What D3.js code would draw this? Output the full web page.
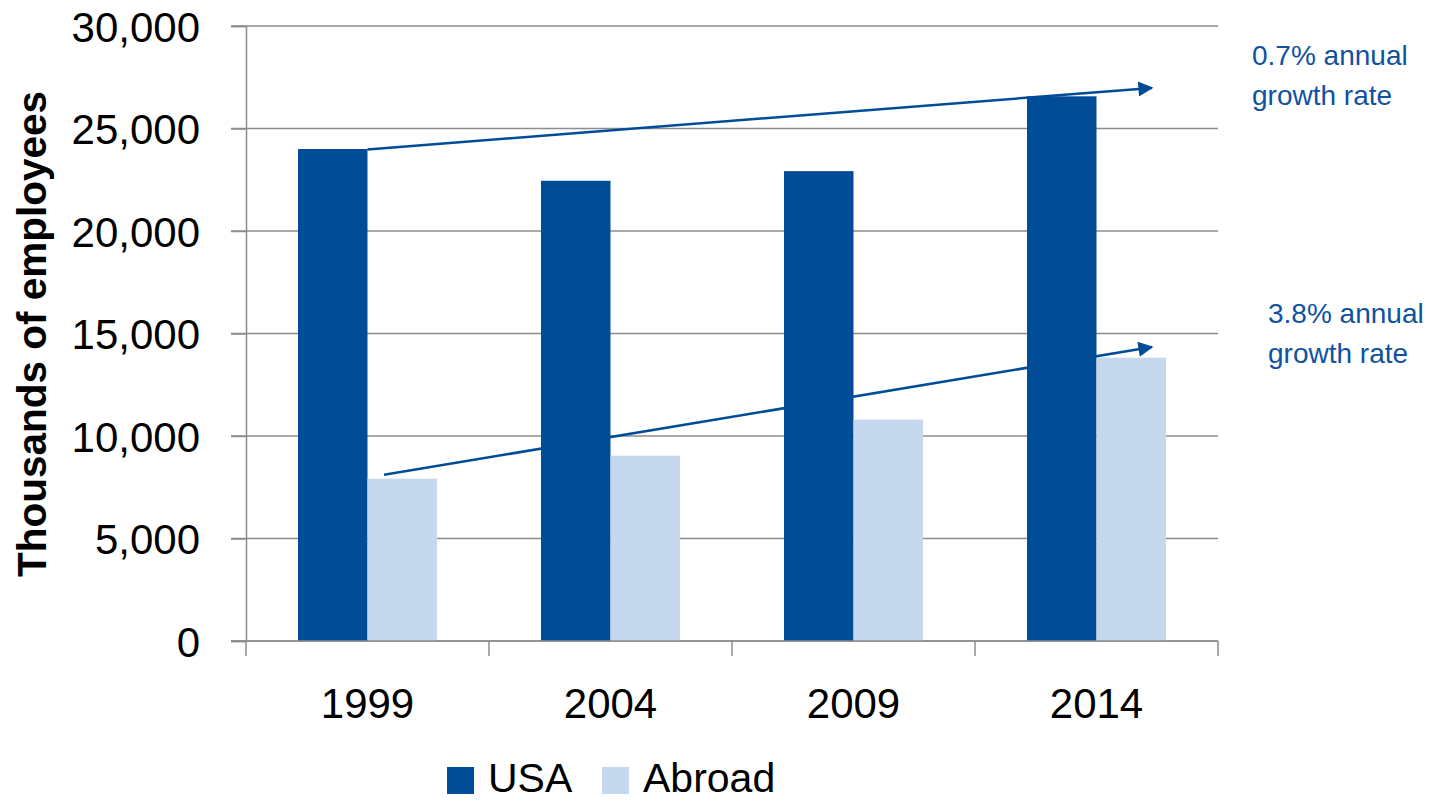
<!DOCTYPE html>
<html><head><meta charset="utf-8">
<script src="https://cdn.jsdelivr.net/npm/d3@7"></script>
<style>html,body{margin:0;padding:0;background:#fff;}svg{display:block;}</style>
</head><body>
<svg id="chart" width="1441" height="801"></svg>
<script>
const years = ["1999", "2004", "2009", "2014"];
const seriesNames = ["USA", "Abroad"];
const usaValues = [24000, 22450, 22920, 26570];
const abroadValues = [7920, 9040, 10800, 13820];
const yTicks = [0, 5000, 10000, 15000, 20000, 25000, 30000];
const colors = ["#004C97", "#C5D8EE"];
// trend arrows: [startYear, startValue, endYear, endValue]
const arrowUSA = [1999, 23980, 2015.14, 26980];
const arrowAbroad = [1999.34, 8110, 2015.14, 14340];
const noteUSA = ["0.7% annual", "growth rate"];
const noteAbroad = ["3.8% annual", "growth rate"];

(function () {
const svg = d3.select("#chart");
const mLeft = 246, mRight = 1218, mTop = 26, mBottom = 641;
const axisColor = "#8C8C8C";
const blue = "#004C97";
const font = "'Liberation Sans', Arial, sans-serif";

const y = d3.scaleLinear().domain([0, 30000]).range([mBottom, mTop]);
const x0 = d3.scaleBand().domain(years).range([mLeft, mRight]).paddingInner(0.428).paddingOuter(0.214);
const x1 = d3.scaleBand().domain(seriesNames).range([0, x0.bandwidth()]);
const xt = d3.scaleLinear().domain([1999, 2014])
  .range([x0("1999") + x0.bandwidth() / 2, x0("2014") + x0.bandwidth() / 2]);

// gridlines
svg.append("g").selectAll("line").data(yTicks).join("line")
  .attr("x1", mLeft - 15).attr("x2", mRight)
  .attr("y1", d => y(d)).attr("y2", d => y(d))
  .attr("stroke", axisColor).attr("stroke-width", 1.5);

// y axis
const yAxis = d3.axisLeft(y).tickValues(yTicks).tickSize(15).tickPadding(31)
  .tickFormat(d3.format(","));
const gy = svg.append("g").attr("transform", `translate(${mLeft},0)`).call(yAxis);
gy.select(".domain").attr("stroke", axisColor).attr("stroke-width", 1.5);
gy.selectAll(".tick line").attr("stroke", axisColor).attr("stroke-width", 1.5);
gy.selectAll("text").attr("font-family", font).attr("font-size", 42).attr("fill", "#000")
  .attr("dy", "0.36em");

// bars
const data = years.map((yr, i) => ({ year: yr, values: [usaValues[i], abroadValues[i]] }));
const groups = svg.append("g").selectAll("g").data(data).join("g")
  .attr("transform", d => `translate(${x0(d.year)},0)`);
groups.selectAll("rect").data(d => d.values.map((v, j) => ({ s: seriesNames[j], v, j })))
  .join("rect")
  .attr("x", d => x1(d.s)).attr("width", x1.bandwidth())
  .attr("y", d => y(d.v)).attr("height", d => mBottom - y(d.v))
  .attr("fill", d => colors[d.j]);

// x axis
const step = x0.step();
const bounds = d3.range(years.length + 1).map(i => mLeft + i * step);
svg.append("line").attr("x1", mLeft - 15).attr("x2", mRight).attr("y1", mBottom).attr("y2", mBottom)
  .attr("stroke", axisColor).attr("stroke-width", 1.5);
svg.append("g").selectAll("line").data(bounds).join("line")
  .attr("x1", d => d).attr("x2", d => d).attr("y1", mBottom).attr("y2", mBottom + 15)
  .attr("stroke", axisColor).attr("stroke-width", 1.5);
svg.append("g").selectAll("text").data(years).join("text")
  .attr("x", d => x0(d) + x0.bandwidth() / 2).attr("y", 718)
  .attr("text-anchor", "middle").attr("font-family", font).attr("font-size", 42).attr("fill", "#000")
  .text(d => d);

// y title
svg.append("text").attr("transform", "translate(46,334) rotate(-90)")
  .attr("text-anchor", "middle").attr("font-family", font).attr("font-weight", "bold")
  .attr("font-size", 40.5).attr("fill", "#000").text("Thousands of employees");

// arrows
const defs = svg.append("defs");
defs.append("marker").attr("id", "arrow").attr("viewBox", "0 0 10 10")
  .attr("refX", 9).attr("refY", 5).attr("markerWidth", 7).attr("markerHeight", 6)
  .attr("orient", "auto").attr("markerUnits", "strokeWidth")
  .append("path").attr("d", "M0,0 L10,5 L0,10 Z").attr("fill", blue);
[arrowUSA, arrowAbroad].forEach(a => {
  svg.append("line")
    .attr("x1", xt(a[0])).attr("y1", y(a[1]))
    .attr("x2", xt(a[2])).attr("y2", y(a[3]))
    .attr("stroke", blue).attr("stroke-width", 2.5).attr("marker-end", "url(#arrow)");
});

// notes
function note(lines, x, yb) {
  svg.append("g").selectAll("text").data(lines).join("text")
    .attr("x", x).attr("y", (d, i) => yb + i * 40)
    .attr("font-family", font).attr("font-size", 28).attr("fill", "#0F52A0")
    .text(d => d);
}
note(noteUSA, 1252, 65);
note(noteAbroad, 1268, 323);

// legend
const legend = svg.append("g");
const legX = [447, 602];
seriesNames.forEach((s, i) => {
  legend.append("rect").attr("x", legX[i]).attr("y", 767).attr("width", 27).attr("height", 27)
    .attr("fill", colors[i]);
  legend.append("text").attr("x", legX[i] + 41).attr("y", 792)
    .attr("font-family", font).attr("font-size", 41).attr("fill", "#000").text(s);
});
})();
</script>
</body></html>
